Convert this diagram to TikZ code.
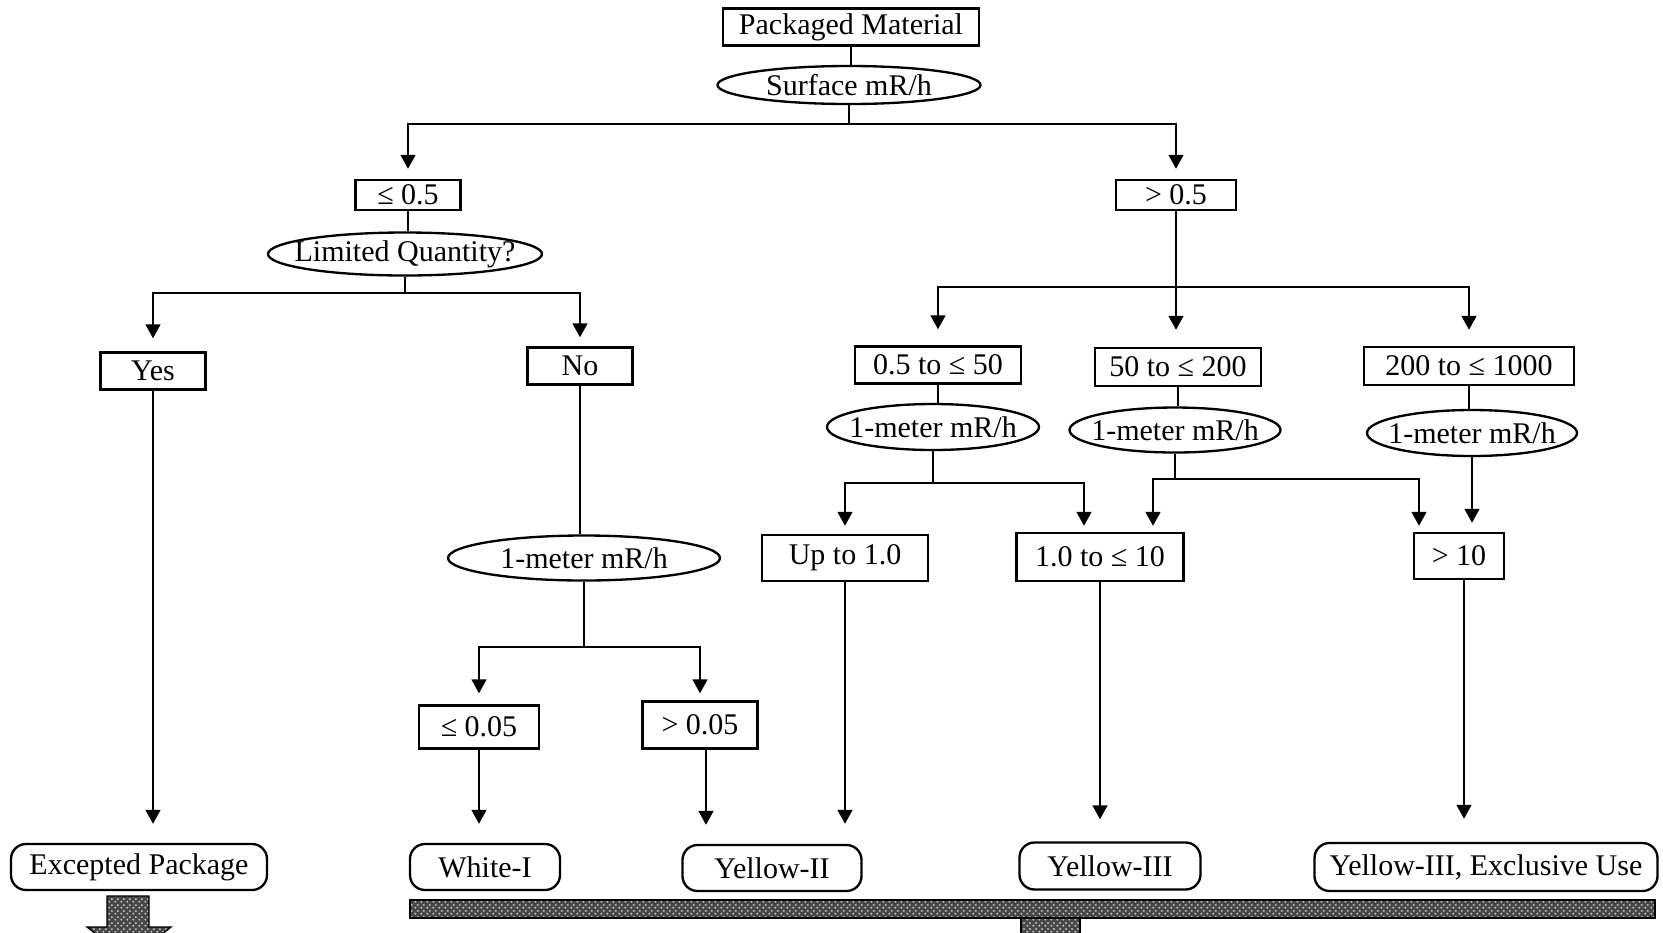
\documentclass[tikz,border=0pt]{standalone}
\usepackage{fontspec}
\setmainfont{Liberation Serif}
\usetikzlibrary{shapes.geometric,arrows.meta,patterns}
\pgfdeclarepatternformonly{minidots}{\pgfpointorigin}{\pgfqpoint{1.8pt}{1.8pt}}{\pgfqpoint{1.8pt}{1.8pt}}{%
  \pgfpathcircle{\pgfqpoint{0.45pt}{0.45pt}}{0.38pt}%
  \pgfpathcircle{\pgfqpoint{1.35pt}{1.35pt}}{0.38pt}%
  \pgfusepath{fill}}
\begin{document}
\begin{tikzpicture}[x=0.3pt,y=-0.3pt,
 every node/.style={font=\fontsize{9}{11}\selectfont, inner sep=0pt, line width=0.7pt},
 sz/.style 2 args={minimum width=#1*0.3pt, minimum height=#2*0.3pt},
 box/.style={draw, rectangle},
 ell/.style={draw, ellipse},
 term/.style={draw, rectangle, rounded corners=4.5pt},
 conn/.style={line width=0.75pt},
 arr/.style={conn, -{Triangle[length=4.2pt,width=4.4pt]}},
 hatch/.style={draw=black, line width=0.4pt, preaction={fill=black!72}, pattern=minidots, pattern color=black!25}
]
\useasboundingbox (0,0) rectangle (1663,932);
\clip (0,0) rectangle (1663,932);

% nodes
\node[box, sz={256}{37}] (pm) at (851,27) {Packaged Material};
\node[ell, sz={263}{38}, label=center:{Surface mR/h}] (surf) at (849,85) {};
\node[box, sz={105}{30}] (le05) at (408,195) {≤ 0.5};
\node[ell, sz={274}{43}, label=center:{Limited Quantity?}] (lq) at (405,254) {};
\node[box, sz={105}{37}] (yes) at (153,371) {Yes};
\node[box, sz={105}{37}] (no) at (580,366) {No};
\node[ell, sz={272}{45}, label=center:{1-meter mR/h}] (m1) at (584,558) {};
\node[box, sz={120}{43}] (le005) at (479,727) {≤ 0.05};
\node[box, sz={115}{47}] (gt005) at (700,725) {> 0.05};
\node[term, sz={256}{46}] (exc) at (139,867) {Excepted Package};
\node[term, sz={150}{46}] (white) at (485,867) {White-I};
\node[term, sz={179}{46}] (y2) at (772,868) {Yellow-II};
\node[term, sz={181}{47}] (y3) at (1110,866) {Yellow-III};
\node[term, sz={343}{48}] (y3e) at (1486,867) {Yellow-III, Exclusive Use};
\node[box, sz={120}{30}] (gt05) at (1176,195) {> 0.5};
\node[box, sz={166}{37}] (r1) at (938,365) {0.5 to ≤ 50};
\node[box, sz={166}{38}] (r2) at (1178,367) {50 to ≤ 200};
\node[box, sz={210}{38}] (r3) at (1469,366) {200 to ≤ 1000};
\node[ell, sz={212}{46}, label=center:{1-meter mR/h}] (e1) at (933,427) {};
\node[ell, sz={211}{45}, label=center:{1-meter mR/h}] (e2) at (1175,430) {};
\node[ell, sz={210}{46}, label=center:{1-meter mR/h}] (e3) at (1472,433) {};
\node[box, sz={166}{46}] (up1) at (845,558) {Up to 1.0};
\node[box, sz={167}{48}] (r10) at (1100,557) {1.0 to ≤ 10};
\node[box, sz={90}{46}] (gt10) at (1459,556) {> 10};

% junctions
\coordinate (j1) at (849,124);
\coordinate (j2) at (405,293);
\coordinate (j3) at (584,647);
\coordinate (j4) at (1177,287);
\coordinate (j5) at (933,483);
\coordinate (j6) at (1175,479);

% connectors
\draw[conn] (pm.south) -- (pm.south |- surf.north);
\draw[conn] (surf.south) -- (j1);
\draw[arr, shorten >=3pt] (j1) -| (le05.north);
\draw[arr, shorten >=3pt] (j1) -| (gt05.north);

\draw[conn] (le05.south) -- (le05.south |- lq.north);
\draw[conn] (lq.south) -- (j2);
\draw[arr, shorten >=3.9pt] (j2) -| (yes.north);
\draw[arr, shorten >=2.7pt] (j2) -| (no.north);
\draw[arr, shorten >=5.7pt] (yes.south) -- (yes.south |- exc.north);
\draw[conn] (no.south) -- (no.south |- m1.north);
\draw[conn] (m1.south) -- (j3);
\draw[arr, shorten >=3.3pt] (j3) -| (le005.north);
\draw[arr, shorten >=2.1pt] (j3) -| (gt005.north);
\draw[arr, shorten >=5.7pt] (le005.south) -- (le005.south |- white.north);
\draw[arr, shorten >=5.7pt] ([xshift=1.8pt]gt005.south) -- ([xshift=1.8pt]gt005.south |- y2.north);

\draw[arr, shorten >=5.1pt] (gt05.south) -- (gt05.south |- r2.north);
\draw[arr, shorten >=4.8pt] (j4) -| (r1.north);
\draw[arr, shorten >=4.8pt] (j4) -| (r3.north);
\draw[conn] (r1.south) -- (r1.south |- e1.north);
\draw[conn] (r2.south) -- (r2.south |- e2.north);
\draw[conn] (r3.south) -- (r3.south |- e3.north);

\draw[conn] (e1.south) -- (j5);
\draw[arr, shorten >=2.4pt] (j5) -| (up1.north);
\draw[arr, shorten >=1.8pt] (j5) -| ([xshift=-4.8pt]r10.north);
\draw[conn] (e2.south) -- (j6);
\draw[arr, shorten >=1.8pt] (j6) -| ([xshift=15.9pt]r10.north);
\draw[arr, shorten >=1.8pt] (j6) -| ([xshift=-12pt]gt10.north);
\draw[arr, shorten >=2.7pt] (e3.south) -- (e3.south |- gt10.north);

\draw[arr, shorten >=6pt] (up1.south) -- (up1.south |- y2.north);
\draw[arr, shorten >=6.6pt] (r10.south) -- (r10.south |- y3.north);
\draw[arr, shorten >=6.9pt] ([xshift=1.5pt]gt10.south) -- ([xshift=1.5pt]gt10.south |- y3e.north);

% hatched bars and arrow
\path[hatch] (410,900) rectangle (1655,918);
\path[hatch] (1021,918) rectangle (1080,945);
\path[hatch] (107,896) -- (149,896) -- (149,927) -- (171,927) -- (129,960) -- (87,927) -- (107,927) -- cycle;
\end{tikzpicture}
\end{document}
